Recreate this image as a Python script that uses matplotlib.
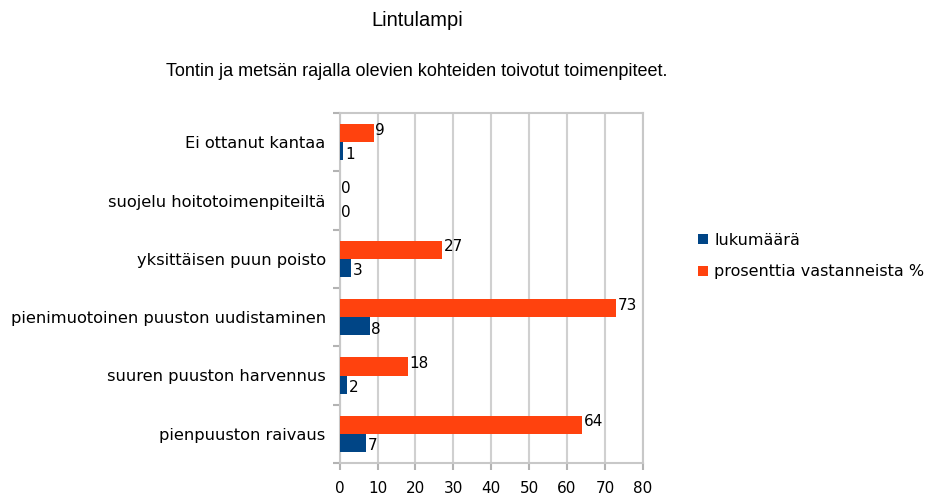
import numpy as np
import matplotlib.pyplot as plt
from matplotlib.ticker import FixedLocator

plt.rcParams['font.family'] = ['DejaVu Sans']

categories = ["Ei ottanut kantaa", "suojelu hoitotoimenpiteiltä", "yksittäisen puun poisto",
              "pienimuotoinen puuston uudistaminen", "suuren puuston harvennus", "pienpuuston raivaus"]
lukumaara = [1, 0, 3, 8, 2, 7]
prosentti = [9, 0, 27, 73, 18, 64]

blue = "#004586"
orange = "#ff420e"

fig = plt.figure(figsize=(9.33, 5), dpi=100)
ax = fig.add_axes([0.364, 0.074, 0.325, 0.700])

y = np.arange(len(categories))
h = 0.31
ax.barh(y - h / 2, prosentti, height=h, color=orange, label="prosenttia vastanneista %", zorder=3)
ax.barh(y + h / 2, lukumaara, height=h, color=blue, label="lukumäärä", zorder=3)

for yi, v in zip(y, prosentti):
    ax.text(v + 0.4, yi - h / 2 - 0.05, str(v), va="center", ha="left", fontsize=11)
for yi, v in zip(y, lukumaara):
    ax.text(v + 0.4, yi + h / 2 + 0.05, str(v), va="center", ha="left", fontsize=11)

ax.set_xlim(0, 80)
ax.set_ylim(len(categories) - 0.5, -0.5)
ax.set_xticks(range(0, 81, 10))
ax.set_yticks(y)
ax.set_yticklabels(categories, fontsize=11.7)
ax.yaxis.set_minor_locator(FixedLocator(np.arange(-0.5, len(categories), 1)))
ax.tick_params(axis="y", which="major", length=0, pad=10)
ax.tick_params(axis="y", which="minor", length=5, color="#b3b3b3", width=1.5)
ax.tick_params(axis="x", length=5, color="#b3b3b3", width=1.5, labelsize=11, pad=8)
ax.grid(axis="x", color="#d0d0d0", linewidth=1.5, zorder=0)
for s in ax.spines.values():
    s.set_color("#c8c8c8")
    s.set_linewidth(1.5)

handles, labels = ax.get_legend_handles_labels()
fig.legend(handles[::-1], labels[::-1], loc="center left", bbox_to_anchor=(0.733, 0.488),
           frameon=False, fontsize=11.5, handlelength=0.6, handleheight=0.6,
           handletextpad=0.4, labelspacing=1.05)

fig.text(0.447, 0.96, "Lintulampi", ha="center", va="center", fontsize=14.5,
         family="Liberation Sans")
fig.text(0.447, 0.856, "Tontin ja metsän rajalla olevien kohteiden toivotut toimenpiteet.",
         ha="center", va="center", fontsize=13, family="Liberation Sans")

fig.savefig("out.png", dpi=100)
